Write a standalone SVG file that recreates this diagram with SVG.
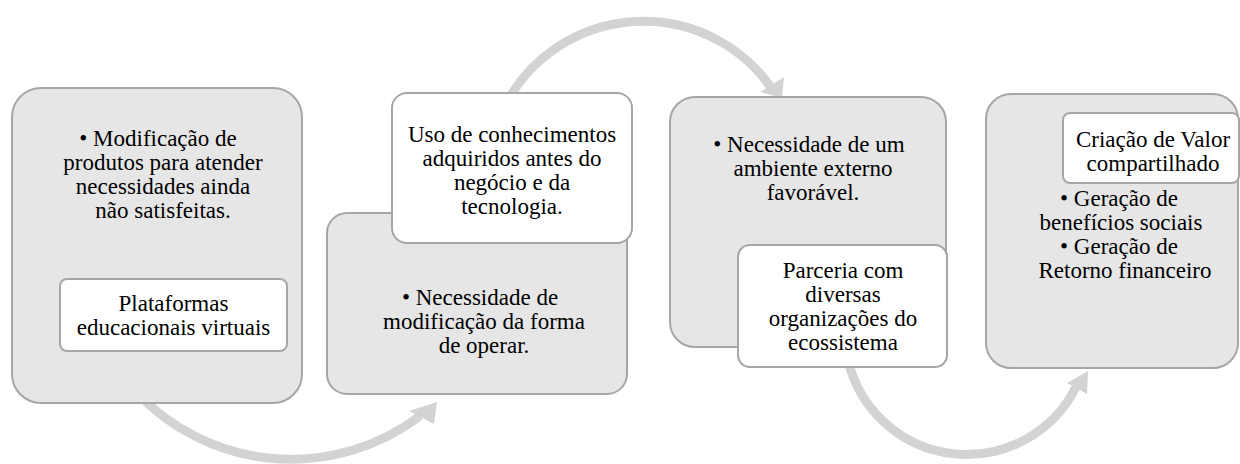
<svg xmlns="http://www.w3.org/2000/svg" width="1240" height="464" viewBox="0 0 1240 464">
<style>
.outer{fill:#e6e6e6;stroke:#a6a6a6;stroke-width:2}
.inner{fill:#ffffff;stroke:#a6a6a6;stroke-width:2}
.arc{fill:none;stroke:#d3d3d3;stroke-width:9}
.head{fill:#d3d3d3}
text{font-family:"Liberation Serif","Times New Roman",serif;font-size:23px;fill:#000;text-anchor:middle}
</style>
<rect width="1240" height="464" fill="#ffffff"/>
<g id="connectors">
<path class="arc" d="M 136 392 A 213 213 0 0 0 420 416"/>
<polygon class="head" points="437,402 409,411 434,424"/>
<path class="arc" d="M 508 100 A 156 156 0 0 1 770 86"/>
<polygon class="head" points="782,98 760,92 784,77"/>
<path class="arc" d="M 848 360 A 122 122 0 0 0 1076 387"/>
<polygon class="head" points="1088,371 1067,383 1087,394"/>
</g>
<g id="node1">
<rect class="outer" x="12" y="88" width="290" height="315" rx="29"/>
<text x="158" y="145.5">• Modificação de</text>
<text x="163" y="169.5">produtos para atender</text>
<text x="163" y="193.5">necessidades ainda</text>
<text x="163" y="217.5">não satisfeitas.</text>
</g>
<g id="node1b">
<rect class="inner" x="60" y="279" width="227" height="72" rx="7"/>
<text x="173.5" y="310.5">Plataformas</text>
<text x="173.5" y="334.5">educacionais virtuais</text>
</g>
<g id="node2">
<rect class="outer" x="327" y="213" width="300" height="181" rx="20"/>
<text x="480" y="304.5">• Necessidade de</text>
<text x="484" y="328.5">modificação da forma</text>
<text x="484" y="352.5">de operar.</text>
</g>
<g id="node2b">
<rect class="inner" x="392" y="93" width="240" height="150" rx="15"/>
<text x="512" y="141.5">Uso de conhecimentos</text>
<text x="512" y="165.5">adquiridos antes do</text>
<text x="512" y="189.5">negócio e da</text>
<text x="512" y="213.5">tecnologia.</text>
</g>
<g id="node3">
<rect class="outer" x="670" y="97" width="276" height="250" rx="25"/>
<text x="809" y="152">• Necessidade de um</text>
<text x="813" y="176">ambiente externo</text>
<text x="813" y="200">favorável.</text>
</g>
<g id="node3b">
<rect class="inner" x="738" y="245" width="209" height="122" rx="12"/>
<text x="843" y="278">Parceria com</text>
<text x="843" y="302">diversas</text>
<text x="843" y="326">organizações do</text>
<text x="843" y="350">ecossistema</text>
</g>
<g id="node4">
<rect class="outer" x="986" y="94" width="252" height="274" rx="25"/>
<text x="1119" y="206">• Geração de</text>
<text x="1121" y="230">benefícios sociais</text>
<text x="1119" y="254">• Geração de</text>
<text x="1125" y="278">Retorno financeiro</text>
</g>
<g id="node4b">
<rect class="inner" x="1063" y="113" width="176" height="70" rx="7"/>
<text x="1153" y="147">Criação de Valor</text>
<text x="1153" y="171">compartilhado</text>
</g>
</svg>
